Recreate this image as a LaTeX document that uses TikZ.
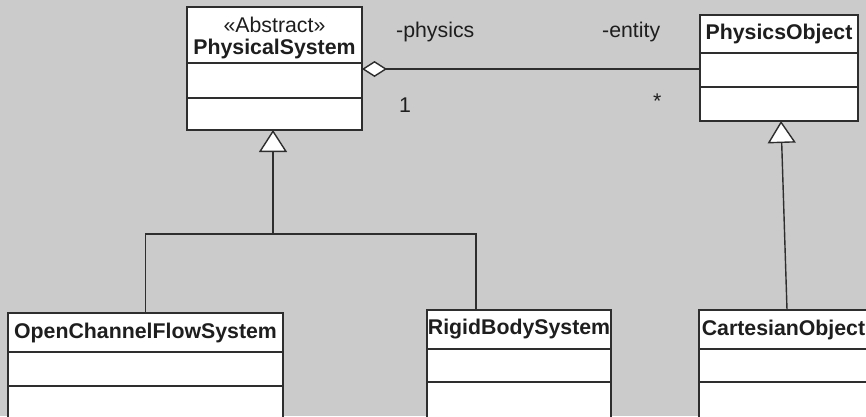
\documentclass[tikz,border=0pt]{standalone}
\usepackage{fontspec}
\setmainfont{Liberation Sans}
\usetikzlibrary{arrows.meta,calc}
\definecolor{bg}{HTML}{CBCBCB}
\definecolor{ln}{HTML}{2E2E2E}
\definecolor{tx}{HTML}{1E1E1E}
\tikzset{
  fs/.style={font=\fontsize{21.3pt}{22pt}\selectfont},
  cls/.style={draw=ln, line width=1.4pt, fill=white, inner sep=0pt, outer sep=0pt, anchor=north west, text=tx, fs},
  head/.style={cls, font=\fontsize{21.3pt}{22pt}\selectfont\bfseries},
  comp/.style={cls},
  conn/.style={draw=ln, line width=1.4pt},
  inherit/.style={conn, -{Triangle[fill=white, length=22pt, width=28pt]}},
  aggreg/.style={conn, -{Diamond[fill=white, length=25pt, width=16pt]}},
  lbl/.style={inner sep=0pt, text=tx, fs, anchor=base west}
}
\begin{document}
\begin{tikzpicture}[x=1pt, y=-1pt]
\useasboundingbox (0,0) rectangle (866,416);
\clip (0,0) rectangle (866,416);
\fill[bg] (0,0) rectangle (866,416);

% PhysicalSystem
\node[cls, align=center, minimum width=175pt, minimum height=56pt, text height=44pt] (ps) at (187,7) {«Abstract»\\\textbf{PhysicalSystem}};
\node[comp, minimum width=175pt, minimum height=35pt] (ps1) at (ps.south west) {};
\node[comp, minimum width=175pt, minimum height=32pt] (ps2) at (ps1.south west) {};

% PhysicsObject
\node[head, minimum width=158pt, minimum height=38pt] (po) at (700,15) {PhysicsObject};
\node[comp, minimum width=158pt, minimum height=34pt] (po1) at (po.south west) {};
\node[comp, minimum width=158pt, minimum height=34pt] (po2) at (po1.south west) {};

% OpenChannelFlowSystem
\node[head, minimum width=275pt, minimum height=39pt] (ocfs) at (8,313) {OpenChannelFlowSystem};
\node[comp, minimum width=275pt, minimum height=34pt] (ocfs1) at (ocfs.south west) {};
\node[comp, minimum width=275pt, minimum height=40pt] (ocfs2) at (ocfs1.south west) {};

% RigidBodySystem
\node[head, minimum width=184pt, minimum height=39pt] (rbs) at (427,310) {RigidBodySystem};
\node[comp, minimum width=184pt, minimum height=33pt] (rbs1) at (rbs.south west) {};
\node[comp, minimum width=184pt, minimum height=40pt] (rbs2) at (rbs1.south west) {};

% CartesianObject
\node[head, minimum width=169pt, minimum height=39pt] (co) at (699,310) {CartesianObject};
\node[comp, minimum width=169pt, minimum height=33pt] (co1) at (co.south west) {};
\node[comp, minimum width=169pt, minimum height=40pt] (co2) at (co1.south west) {};

% generalisation to PhysicalSystem
\coordinate (j) at (273,234);
\coordinate (rbsin) at (476,310);
\draw[conn] (ocfs.north) |- (j);
\draw[conn] (rbsin) |- (j);
\draw[inherit] (j) -- (j |- ps2.south);

% generalisation to PhysicsObject
\coordinate (coin) at (787,310);
\draw[inherit] (coin) -- ($(po2.south)+(2,0)$);

% aggregation
\draw[aggreg] ([yshift=-16pt]po1.north west) -- ([yshift=-6pt]ps1.north east);

% role labels
\node[lbl] (lphys) at (396,37) {-physics};
\node[lbl] (lent) at (602,37) {-entity};
\node[lbl] (lone) at (399,112) {1};
\node[lbl] (lmany) at (653,108) {*};
\end{tikzpicture}
\end{document}
